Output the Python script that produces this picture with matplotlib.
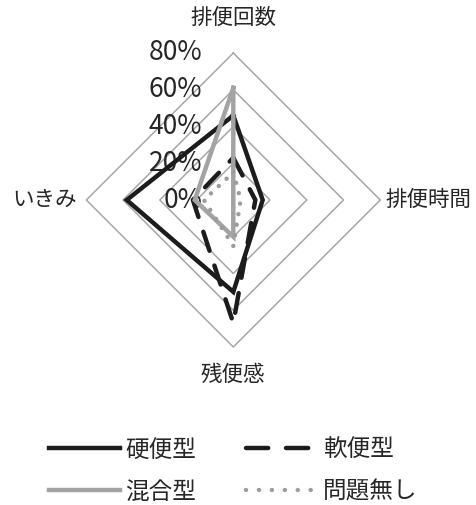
import numpy as np
import matplotlib
matplotlib.use("Agg")
import matplotlib.pyplot as plt
from matplotlib.lines import Line2D

plt.rcParams['font.family'] = ['Noto Sans CJK JP', 'DejaVu Sans']

categories = ['排便回数', '排便時間', '残便感', 'いきみ']
series_names = ['硬便型', '軟便型', '混合型', '問題無し']
hard = [46, 16, 50, 58]
soft = [23, 12, 67, 22]
mixed = [61, 0, 20, 21]
normal = [15, 4, 25, 16]
ticks = [0, 20, 40, 60, 80]
tick_labels = ['0%', '20%', '40%', '60%', '80%']

W, H = 477, 505
fig = plt.figure(figsize=(W / 100, H / 100), dpi=100)
cx, cy = 233.3, H - 200
scale = 147 / 80.0
R = 100
half = R * scale
ax = fig.add_axes([(cx - half) / W, (cy - half) / H, 2 * half / W, 2 * half / H])
ax.set_xlim(-R, R)
ax.set_ylim(-R, R)
ax.set_aspect('equal')
ax.axis('off')

angles = np.deg2rad([90, 0, -90, 180])
ca, sa = np.cos(angles), np.sin(angles)

def closed(vals):
    v = np.asarray(vals, dtype=float)
    x = v * ca
    y = v * sa
    return np.append(x, x[0]), np.append(y, y[0])

grid_color = '#a6a6a6'
for t in ticks[1:]:
    gx, gy = closed([t] * 4)
    ax.plot(gx, gy, color=grid_color, lw=1.1, zorder=1)

black = '#1c1c1c'
gray = '#a3a3a3'
styles = [
    dict(color=black, lw=3.2, ls='-', solid_joinstyle='miter'),
    dict(color=black, lw=3.2, ls=(0, (4.5, 3.5)), dash_capstyle='round'),
    dict(color=gray, lw=3.2, ls='-', solid_joinstyle='miter'),
    dict(color='#9c9c9c', lw=3.2, ls=(0, (0.01, 2.4)), dash_capstyle='round'),
]
for vals, st in zip([hard, soft, mixed, normal], styles):
    x, y = closed(vals)
    ax.plot(x, y, zorder=3, **st)

for t, lab in zip(ticks, tick_labels):
    ax.text(-17, t, lab, ha='right', va='center', fontsize=19, color='#262626', zorder=2)

pos = [(0, (200 - 18) / scale),
       ((428 - cx) / scale, 0),
       (0, -(375 - 200) / scale),
       ((45 - cx) / scale, 0)]
for cat, (px, py) in zip(categories, pos):
    ax.text(px, py, cat, ha='center', va='center', fontsize=15.5, color='#262626', clip_on=False)

leg_styles = [dict(s) for s in styles]
leg_styles[1]['ls'] = (0, (5.0, 4.0))
leg_styles[3]['ls'] = (0, (0.01, 2.9))
handles = [Line2D([0], [0], **s) for s in leg_styles]
order = [0, 2, 1, 3]
leg = fig.legend([handles[i] for i in order], [series_names[i] for i in order],
                 ncol=2, loc='center',
                 bbox_to_anchor=(233 / W, 1 - 471 / H), frameon=False,
                 fontsize=17, handlelength=3.0, handletextpad=0.25,
                 columnspacing=2.1, labelspacing=0.8, borderpad=0.2)
for t in leg.get_texts():
    t.set_color('#262626')

fig.savefig('out.png', dpi=100)
